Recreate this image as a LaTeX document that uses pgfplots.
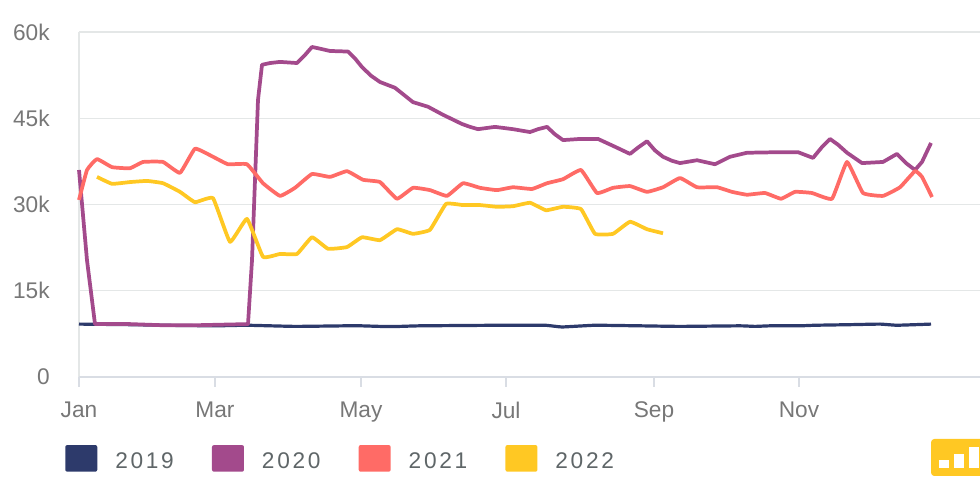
\documentclass[border=0pt]{standalone}
\usepackage{pgfplots}
\pgfplotsset{compat=1.18}
\usepackage{fontspec}
\setmainfont{Liberation Sans}
\newfontfamily\legfont[LetterSpace=12]{Liberation Sans}
\definecolor{cA}{HTML}{2D3A6B}
\definecolor{cB}{HTML}{A34A8C}
\definecolor{cC}{HTML}{FF6B66}
\definecolor{cD}{HTML}{FFC823}
\definecolor{gridc}{HTML}{E4E7E7}
\definecolor{axc}{HTML}{D9DDE4}
\definecolor{txt}{HTML}{777777}
\definecolor{legt}{HTML}{5F6668}
\begin{document}
\begin{tikzpicture}
\path[use as bounding box] (0,0) rectangle (735pt,366pt);
\begin{axis}[
  at={(59.25pt,83.25pt)}, anchor=south west,
  scale only axis, width=675.75pt, height=258.75pt,
  xmin=79, xmax=980, ymin=0, ymax=60,
  axis line style={draw=none},
  axis x line*=bottom, axis y line*=left,
  xtick={79,215,361,506,654,799},
  xticklabels={Jan,Mar,May,Jul,Sep,Nov},
  ytick={0,15,30,45,60},
  yticklabels={0,15k,30k,45k,60k},
  ymajorgrids, major grid style={gridc,line width=1.1pt},
  x tick style={axc,line width=1pt},
  y tick style={draw=none},
  major tick length=7.5pt,
  tick align=outside,
  xtick pos=bottom, ytick pos=left,
  every x tick label/.style={font=\fontsize{17pt}{20pt}\selectfont,text=txt},
  every y tick label/.style={font=\fontsize{17pt}{20pt}\selectfont,text=txt},
  xticklabel style={yshift=-7.5pt},
  yticklabel style={xshift=-11pt},
  /pgf/number format/assume math mode=true,
  clip=false,
  legend cell align=left,
  legend columns=4,
  legend style={draw=none,fill=none,inner sep=0pt,at={(-0.01554,-0.2377)},anchor=west,
    font=\legfont\fontsize{17pt}{20pt}\selectfont,text=legt,
    /tikz/every even column/.style={column sep=26.6pt},
    /tikz/every odd column/.style={column sep=11.5pt}},
  legend image code/.code={\fill[#1,draw=none,rounded corners=1.5pt] (0pt,-7.75pt) rectangle (24pt,12.25pt);},
  every axis plot/.append style={line width=2.8pt,no markers,line join=round},
]
\draw[gridc,line width=1.1pt] (axis cs:79,0) -- (axis cs:79,60);
\draw[axc,line width=1.1pt] (axis cs:79,0) -- (axis cs:980,0);
\addplot[color=cA,line width=2.4pt,smooth,tension=0.2] coordinates {(79,9.2)(130,9.1)(163,9.0)(215,8.9)(247,9.0)(295,8.8)(345,8.9)(361,8.9)(380,8.8)(400,8.8)(420,8.9)(500,9.0)(545,9.0)(562,8.7)(595,9.0)(640,8.9)(680,8.8)(740,8.9)(755,8.8)(770,8.9)(800,8.9)(815,9.0)(850,9.1)(880,9.2)(897,9.0)(931,9.2)};
\addlegendentry{2019}
\addplot[color=cB,sharp plot] coordinates {(79,36.0)(87,20.3)(95,9.2)(130,9.2)(163,9.0)(195,9.0)(248,9.2)(252,20.3)(258,48.2)(262,54.3)(270,54.6)(280,54.8)(297,54.6)(305,56.0)(312,57.4)(320,57.1)(330,56.7)(348,56.6)(355,55.4)(362,53.9)(371,52.4)(380,51.3)(395,50.3)(413,47.8)(428,47.0)(443,45.6)(462,44.0)(470,43.5)(478,43.1)(495,43.5)(513,43.1)(530,42.6)(538,43.1)(547,43.5)(555,42.2)(563,41.2)(580,41.4)(598,41.4)(613,40.2)(630,38.8)(638,39.9)(647,41.0)(655,39.4)(663,38.3)(672,37.6)(680,37.2)(697,37.7)(715,37.0)(730,38.3)(747,39.0)(780,39.1)(798,39.1)(813,38.1)(822,40.0)(830,41.4)(838,40.4)(847,39.0)(862,37.2)(883,37.4)(897,38.8)(906,37.2)(915,36.0)(922,37.4)(931,40.7)};
\addlegendentry{2020}
\addplot[color=cC,smooth,tension=0.2] coordinates {(79,30.8)(87,36.0)(97,37.9)(112,36.5)(130,36.3)(143,37.4)(163,37.4)(180,35.5)(195,39.7)(213,38.3)(228,37.0)(247,37.0)(263,33.7)(280,31.5)(295,32.9)(312,35.3)(330,34.8)(347,35.8)(363,34.3)(380,33.9)(397,31.0)(413,32.9)(430,32.5)(447,31.5)(463,33.7)(480,32.9)(497,32.5)(513,33.0)(532,32.7)(547,33.7)(563,34.4)(581,36.0)(597,32.0)(613,32.9)(630,33.2)(647,32.2)(663,33.0)(680,34.6)(697,33.0)(717,33.0)(732,32.2)(747,31.7)(765,32.0)(781,31.0)(795,32.2)(812,32.0)(832,31.0)(847,37.4)(863,32.0)(883,31.5)(900,33.0)(915,35.8)(922,34.8)(932,31.3)};
\addlegendentry{2021}
\addplot[color=cD,smooth,tension=0.2] coordinates {(97,34.8)(112,33.6)(130,33.9)(147,34.1)(163,33.7)(180,32.2)(195,30.4)(213,31.1)(230,23.5)(247,27.5)(263,20.9)(280,21.4)(297,21.4)(312,24.3)(328,22.3)(347,22.6)(362,24.3)(380,23.8)(397,25.7)(413,24.9)(430,25.6)(446,30.1)(463,29.9)(480,29.9)(497,29.6)(513,29.7)(530,30.3)(546,29.0)(563,29.6)(581,29.2)(595,24.9)(613,24.9)(630,27.0)(647,25.7)(663,25.0)};
\addlegendentry{2022}
\end{axis}
\begin{scope}[x=0.75pt,y=0.75pt]
\fill[cD,rounded corners=2.5pt] (931,49) rectangle (990,12);
\fill[white] (939,28) rectangle (949,20);
\fill[white] (954,34) rectangle (964,20);
\fill[white] (969,41) rectangle (979,20);
\end{scope}
\end{tikzpicture}
\end{document}
